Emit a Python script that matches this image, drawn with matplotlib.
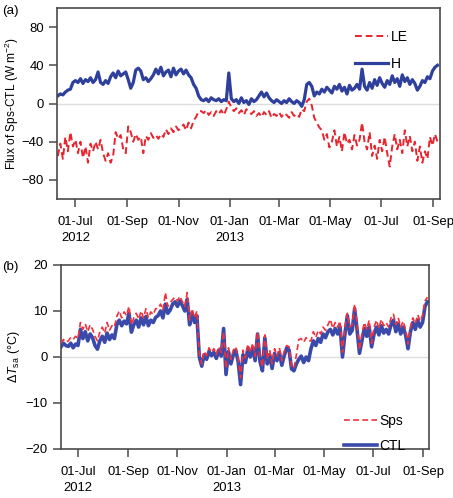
import matplotlib
matplotlib.use("Agg")
import matplotlib.pyplot as plt
import numpy as np
import pandas as pd

plt.rcParams['font.family'] = ['Liberation Sans', 'DejaVu Sans']
plt.rcParams['mathtext.fontset'] = 'custom'
plt.rcParams['mathtext.rm'] = 'Liberation Sans'
plt.rcParams['mathtext.it'] = 'Liberation Sans:italic'

# daily series sampled every 3 days, 10 Jun 2012 - 06 Sep 2013
dates = pd.date_range('2012-06-10', periods=152, freq='3D')

# (a) flux differences Sps-CTL (W m-2)
h_flux = [8, 10, 9, 12, 14, 15, 22, 24,
          22, 26, 21, 25, 23, 27, 22, 25,
          33, 22, 20, 24, 21,
          28, 32, 27, 34, 29, 31, 33, 25,
          16, 22,
          35, 37, 34, 25,
          27, 23, 26, 30,
          36, 31, 38, 29, 33,
          35, 28, 37, 30, 34, 36, 31,
          35, 30, 27, 20, 16, 8,
          4, 3, 5, 2, 6, 4, 3, 5, 2, 4, 3,
          32,
          5, 2, 4, 0, 6, 1, 3, -1, 5, 2, 4,
          8, 12, 7, 11, 6,
          3, 1, 4, 2, 0, 3, 1, 5, 2, 0, 3, 1,
          -3, 4,
          20, 22, 18,
          8, 12, 10, 15, 12, 17, 14, 11, 18, 15, 20, 13, 17, 10, 19, 14, 16,
          20, 15,
          36,
          18, 14, 22, 16, 25, 19, 27, 21,
          17, 24, 20, 29, 22, 26, 18, 30, 23, 27, 20, 25, 21,
          14, 18, 24, 22, 28, 26, 34, 38, 40]

le_flux = [-55, -42, -58,
           -35, -50, -30, -45,
           -38, -52, -40, -57, -45, -62, -42,
           -50, -40, -48, -38, -52,
           -60, -52, -62, -55,
           -30, -37, -33,
           -48, -52,
           -24, -30,
           -40, -32, -38, -35, -52,
           -34, -38, -31, -36, -33, -37, -32, -35,
           -27, -32, -26, -30, -24, -28, -25, -22,
           -28, -20, -26, -18, -14, -8,
           -8, -10, -7, -12, -9, -13, -8, -11, -7, -12, -6,
           2,
           -4, -8, -5, -10, -7, -12, -6, -9, -11, -8, -13,
           -10, -14, -9, -12, -8, -15, -11, -13, -9, -14, -10, -12, -15, -9, -13, -11, -14,
           -6, -8,
           2, 5, -2,
           -15, -20, -25, -28,
           -38, -32, -46, -40,
           -28, -45, -35, -50, -30, -42, -38, -48, -33, -44, -38,
           -20,
           -40, -48, -30, -55, -44, -58, -38, -50, -35, -52, -66, -45,
           -32, -48, -38, -52, -28, -45, -34, -50, -40,
           -60, -45, -62, -50, -58,
           -35, -44, -32, -40]

# (b) delta T_sa (degC)
sps_t = [3.0, 3.8, 3.2,
         3.5, 4.2, 3.8, 4.5, 4.0,
         7.5, 6.0, 7.2, 5.5, 7.0, 6.0,
         4.5, 3.5, 5.5,
         6.5, 5.2, 7.5, 5.8, 6.8, 6.5,
         8.8, 10.0, 8.5, 9.8, 9.0,
         11.0, 7.0, 8.5,
         9.5, 8.2, 10.0, 8.5, 10.5, 8.5, 9.8, 9.2, 10.5,
         10.5, 11.5, 10.2, 14.0, 11.0, 11.8,
         12.5, 13.0, 12.2, 13.2, 12.0,
         11.0, 14.0, 8.0,
         10.5, 8.5, 10.0,
         0.8, -1.5,
         1.2, 0.3, 2.0, 1.0, 1.8, 0.5, 2.2, 1.0,
         5.5,
         -2.5,
         2.0, -0.5, 1.5, 2.2, -0.2,
         -4.5,
         1.5, -0.2, 2.8, 1.0, 3.0, 0.2,
         5.5,
         0.0, -2.2, 4.8,
         -0.5, 1.5, -1.5, 1.8, 0.2, 2.0, -0.8, 1.2,
         2.5, 2.2,
         -2.0, -2.5, 0.5,
         3.8, 4.0, 3.2, 4.2, 3.5,
         3.5, 5.5, 4.2, 5.8, 5.0,
         6.5, 5.8, 7.0,
         8.2,
         6.2, 7.5, 6.5, 7.8, 1.0,
         6.5, 9.5,
         6.5, 7.0, 11.5, 7.5,
         1.5,
         5.0, 7.5, 6.0, 8.0, 3.0,
         6.5, 8.0, 6.2, 8.2, 6.8, 7.5,
         6.5, 8.5, 9.3, 7.0, 8.5, 6.5, 7.8, 6.0,
         2.8,
         6.5, 8.5, 7.2, 9.2, 7.8,
         9.0, 12.2, 13.0]

ctl_t = [2.2, 3.0, 2.5,
         2.3, 3.0, 2.0, 2.8, 2.5,
         6.0, 4.0, 5.5, 3.5, 5.0, 4.2,
         2.5, 1.7, 3.5,
         4.5, 3.2, 5.2, 3.8, 4.8, 4.0,
         7.0, 8.0, 6.8, 7.8, 7.2,
         9.5, 5.4, 7.0,
         8.0, 6.5, 8.5, 7.0, 8.8, 6.8, 8.0, 7.5, 8.6,
         9.0, 10.0, 8.5, 11.5, 9.5, 10.2,
         11.5, 12.0, 11.0, 12.2, 11.2,
         10.0, 12.5, 7.0,
         9.5, 7.5, 9.0,
         0.0, -2.0,
         0.5, -0.5, 1.2, 0.3, 1.0, -0.3, 1.5, 0.2,
         6.2,
         -3.8,
         1.2, -1.5, 0.5, 1.5, -1.0,
         -6.0,
         0.5, -1.2, 1.8, 0.0, 2.0, -0.8,
         5.0,
         -1.0, -3.0, 4.2,
         -1.5, 0.5, -2.5, 0.8, -0.8, 1.0, -1.8, 0.3,
         2.0, 1.5,
         -2.6, -3.0, -1.5,
         -0.5, 0.2, -1.2, 0.0, -0.8,
         1.8, 3.5, 2.5, 4.0, 3.2,
         5.0, 4.2, 5.5,
         6.0,
         4.8, 6.2, 5.0, 6.5, 0.0,
         5.0, 9.0,
         5.0, 5.8, 10.5, 6.0,
         0.8,
         3.5, 6.2, 4.5, 6.5, 2.2,
         5.0, 6.5, 4.8, 6.8, 5.2, 6.0,
         5.0, 7.0, 8.0, 5.5, 7.2, 5.0, 6.5, 4.8,
         1.8,
         5.5, 7.5, 6.0, 8.0, 6.5,
         7.5, 11.0, 12.0]

tick_dates = pd.to_datetime(['2012-07-01', '2012-09-01', '2012-11-01', '2013-01-01',
                             '2013-03-01', '2013-05-01', '2013-07-01', '2013-09-01'])
tick_labels = ['01-Jul\n2012', '01-Sep', '01-Nov', '01-Jan\n2013',
               '01-Mar', '01-May', '01-Jul', '01-Sep']

blue = '#2F3F9C'
red = '#E8242E'
spine_col = '#4A4A4A'

fig = plt.figure(figsize=(4.53, 4.98), dpi=100)
ax1 = fig.add_axes([0.1258, 0.6004, 0.8455, 0.3835])
ax2 = fig.add_axes([0.1347, 0.0984, 0.8124, 0.3695])


def style_axis(ax):
    for s in ax.spines.values():
        s.set_color(spine_col)
        s.set_linewidth(1.2)
    ax.set_xticks(tick_dates)
    ax.set_xticklabels(tick_labels, linespacing=1.45)
    ax.tick_params(axis='both', direction='out', length=6, width=1.1,
                   color=spine_col, labelsize=9.4)
    ax.tick_params(axis='x', pad=6)
    ax.axhline(0, color='#DDDDDD', lw=1, zorder=0)


# panel (a)
ax1.plot(dates, le_flux, color=red, lw=1.4, ls=(0, (3.5, 2)), label='LE')
ax1.plot(dates, h_flux, color=blue, lw=2.3, label='H')
ax1.set_ylim(-100, 100)
ax1.set_yticks([-80, -40, 0, 40, 80])
ax1.set_yticklabels(['\u221280', '\u221240', '0', '40', '80'])
ax1.set_xlim(pd.Timestamp('2012-06-09'), pd.Timestamp('2013-09-09'))
style_axis(ax1)
ax1.set_ylabel('Flux of Sps-CTL (W m$^{\u22122}$)', fontsize=8.6)
ax1.yaxis.set_label_coords(-0.095, 0.5)
ax1.legend(loc='upper left', bbox_to_anchor=(0.76, 0.92), frameon=False,
           fontsize=10, handlelength=2.4, handletextpad=0.15, labelspacing=0.9,
           borderpad=0)

# panel (b)
ax2.plot(dates, ctl_t, color='#3A4AAA', lw=2.6, label='CTL', zorder=2)
ax2.plot(dates, sps_t, color='#F0303C', lw=1.2, ls=(0, (3.5, 2)), label='Sps', zorder=3)
ax2.set_ylim(-20, 20)
ax2.set_yticks([-20, -10, 0, 10, 20])
ax2.set_yticklabels(['\u221220', '\u221210', '0', '10', '20'])
ax2.set_xlim(pd.Timestamp('2012-06-10'), pd.Timestamp('2013-09-08'))
style_axis(ax2)
ax2.set_ylabel('$\\Delta\\mathit{T}_{\\mathrm{sa}}$ (\u00b0C)', fontsize=9)
ax2.yaxis.set_label_coords(-0.105, 0.5)
handles, labels = ax2.get_legend_handles_labels()
ax2.legend(handles[::-1], labels[::-1], loc='upper left', bbox_to_anchor=(0.75, 0.23),
           frameon=False, fontsize=10, handlelength=2.4, handletextpad=0.15,
           labelspacing=0.8, borderpad=0)

fig.text(0.004, 0.972, '(a)', fontsize=9.6)
fig.text(0.004, 0.458, '(b)', fontsize=9.6)

fig.savefig('out.png', dpi=100)
